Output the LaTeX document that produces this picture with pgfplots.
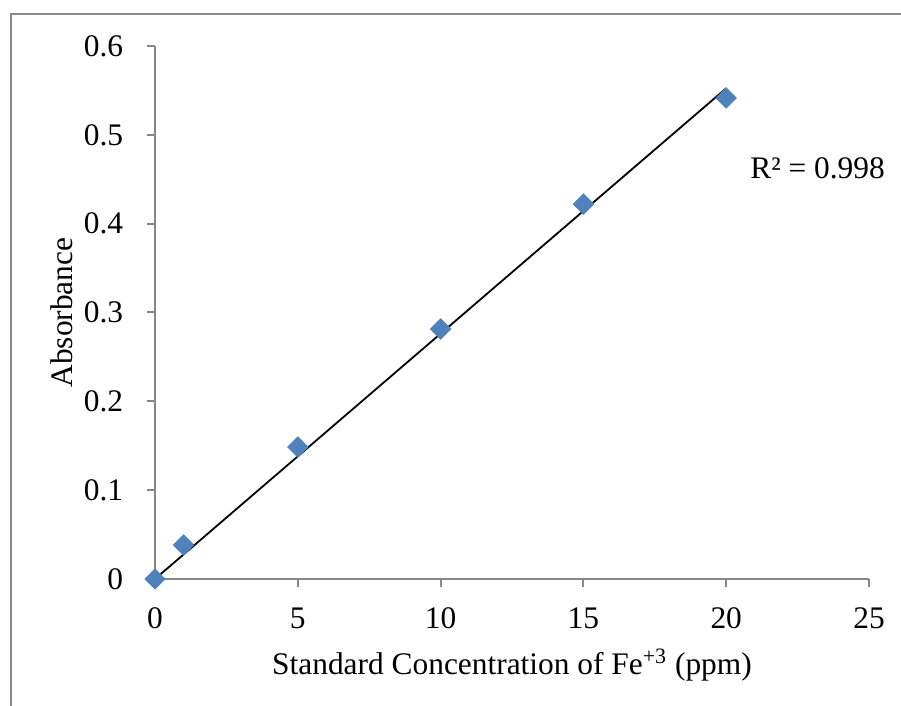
\documentclass[border=0pt]{standalone}
\usepackage{fontspec}
\setmainfont{Liberation Serif}
\usepackage{pgfplots}
\pgfplotsset{compat=1.18}
\definecolor{markblue}{HTML}{4F81BD}
\definecolor{axisgray}{HTML}{868686}
\definecolor{bordergray}{HTML}{8A8A8A}
\begin{document}
\fontsize{15.7bp}{18bp}\selectfont
\begin{tikzpicture}
\path[use as bounding box] (0,0) rectangle (450.5bp,353bp);
\draw[bordergray, line width=1bp] (5.5bp,-1bp) -- (5.5bp,346bp) -- (452bp,346bp);
\begin{axis}[
  at={(77.5bp,63.5bp)}, anchor=south west,
  scale only axis, width=357bp, height=266.5bp,
  xmin=0, xmax=25, ymin=0, ymax=0.6,
  axis lines=left,
  axis line style={-, draw=axisgray, line width=1bp},
  xtick={0,5,10,15,20,25},
  ytick={0,0.1,0.2,0.3,0.4,0.5,0.6},
  tick align=outside,
  major tick length=4bp,
  major tick style={draw=axisgray, line width=1bp},
  /pgf/number format/assume math mode=true,
  yticklabel style={/pgf/number format/fixed, /pgf/number format/precision=1, font=\fontsize{15.7bp}{18bp}\selectfont, xshift=-6.5bp},
  xticklabel style={font=\fontsize{15.7bp}{18bp}\selectfont, yshift=-5bp},
  clip=false,
]
\addplot[black, line width=0.9bp] coordinates {(0,0) (20,0.5524)};
\addplot[only marks, mark=square*, mark size=3.6bp, mark options={rotate=45, fill=markblue, draw=markblue}]
  coordinates {(0,0) (1,0.0383) (5,0.1486) (10,0.2814) (15,0.422) (20,0.5415)};
\node[anchor=base, font=\fontsize{15.7bp}{18bp}\selectfont] at (axis cs:23.2,0.4514) {R² = 0.998};
\node[anchor=base, font=\fontsize{15.7bp}{18bp}\selectfont] at (axis description cs:0.5,-0.17824) {Standard Concentration of Fe\textsuperscript{+3} (ppm)};
\node[anchor=base, rotate=90, font=\fontsize{15.7bp}{18bp}\selectfont] at (axis description cs:-0.11485,0.5) {Absorbance};
\end{axis}
\end{tikzpicture}
\end{document}
